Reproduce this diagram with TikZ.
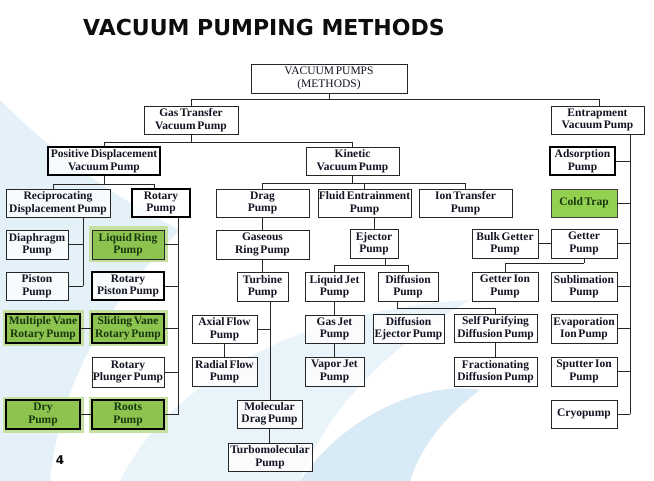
\documentclass[tikz,border=0pt]{standalone}
\usepackage{fontspec}
\newfontfamily\boxfont[WordSpace=0.6]{Liberation Serif}
\newfontfamily\titlefont{DejaVu Sans}
\definecolor{txt}{RGB}{20,20,35}
\definecolor{gfill}{RGB}{141,196,80}
\definecolor{cfill}{RGB}{146,208,80}
\definecolor{ghalo}{RGB}{196,224,160}
\definecolor{gtxt}{RGB}{25,55,15}
\definecolor{bgA}{RGB}{228,241,248}
\definecolor{bgB}{RGB}{232,243,250}
\definecolor{bgC}{RGB}{216,234,246}
\newcommand\mybox[7][]{\node[box,#1,minimum width={(#5)-(#3)},minimum height={(#6)-(#4)}] (#2) at ({((#3)+(#5))/2},{((#4)+(#6))/2}) {#7};}
\begin{document}
\begin{tikzpicture}[x=1pt,y=-1pt,
  box/.style={draw=black!85, line width=0.9pt, fill=white, fill opacity=0.75, text opacity=1, draw opacity=1,
    inner sep=0pt, align=center, text=txt, font=\boxfont\bfseries\fontsize{11.5}{12.5}\selectfont},
  rootbox/.style={font=\boxfont\fontsize{11.5}{12.5}\selectfont},
  thickbox/.style={line width=2pt, draw=black},
  greenhalo/.style={fill=gfill, fill opacity=1, text=gtxt, preaction={draw=ghalo, line width=7pt}},
  greenthick/.style={greenhalo, thickbox},
  greenbox/.style={fill=cfill, fill opacity=1, text=gtxt, draw=black!75},
  conn/.style={draw=black!85, line width=0.9pt}]
\useasboundingbox (0,0) rectangle (654,481);
\fill[white] (0,0) rectangle (654,481);
% background swooshes
\fill[bgA] (0,100) .. controls (60,160) and (120,200) .. (180,230) .. controls (110,300) and (60,380) .. (50,481) -- (0,481) -- cycle;
\fill[bgB] (120,481) .. controls (170,380) and (300,310) .. (470,300) .. controls (400,340) and (330,400) .. (300,481) -- cycle;
\fill[bgC] (300,481) .. controls (340,420) and (420,380) .. (480,390) .. controls (440,420) and (420,450) .. (410,481) -- cycle;

\node[font=\titlefont\bfseries\fontsize{22}{26}\selectfont, text=black!95, anchor=base west, inner sep=0pt] (title) at (83,36) {VACUUM PUMPING METHODS};
\node[font=\titlefont\bfseries\fontsize{12}{14}\selectfont, inner sep=0pt] (pagenum) at (60,460) {4};

\mybox[rootbox]{root}{251}{64}{407}{93}{VACUUM PUMPS\\(METHODS)}
\mybox{gas}{144}{106}{238}{134}{Gas Transfer\\Vacuum Pump}
\mybox{entr}{551}{106}{644}{134}{Entrapment\\Vacuum Pump}
\mybox[thickbox]{pd}{48}{147}{160}{175}{Positive Displacement\\Vacuum Pump}
\mybox{kin}{306}{147}{399}{175}{Kinetic\\Vacuum Pump}
\mybox[thickbox]{ads}{550}{147}{615}{175}{Adsorption\\Pump}
\mybox{recip}{6}{189}{110}{217}{Reciprocating\\Displacement Pump}
\mybox[thickbox]{rot}{132}{189}{190}{217}{Rotary\\Pump}
\mybox{drag}{216}{189}{309}{217}{Drag\\Pump}
\mybox{fluid}{318}{189}{411}{217}{Fluid Entrainment\\Pump}
\mybox{ion}{419}{189}{512}{217}{Ion Transfer\\Pump}
\mybox[greenbox]{cold}{551}{189}{617}{217}{Cold Trap}
\mybox{dia}{6}{230}{68}{259}{Diaphragm\\Pump}
\mybox[greenhalo]{liq}{92}{230}{164}{259}{Liquid Ring\\Pump}
\mybox{gasr}{216}{230}{309}{259}{Gaseous\\Ring Pump}
\mybox{ejec}{350}{229}{398}{258}{Ejector\\Pump}
\mybox{bulk}{472}{229}{538}{258}{Bulk Getter\\Pump}
\mybox{getter}{551}{229}{617}{258}{Getter\\Pump}
\mybox{piston}{6}{272}{68}{300}{Piston\\Pump}
\mybox[thickbox]{rpist}{92}{272}{164}{300}{Rotary\\Piston Pump}
\mybox{turb}{237}{272}{288}{301}{Turbine\\Pump}
\mybox{ljet}{305}{272}{364}{301}{Liquid Jet\\Pump}
\mybox{diff}{378}{272}{438}{301}{Diffusion\\Pump}
\mybox{gion}{472}{272}{538}{301}{Getter Ion\\Pump}
\mybox{subl}{551}{272}{617}{301}{Sublimation\\Pump}
\mybox[greenthick]{mvane}{6}{314}{80}{343}{Multiple Vane\\Rotary Pump}
\mybox[greenthick]{svane}{92}{314}{164}{343}{Sliding Vane\\Rotary Pump}
\mybox{axial}{192}{315}{257}{343}{Axial Flow\\Pump}
\mybox{gjet}{305}{315}{364}{343}{Gas Jet\\Pump}
\mybox{dej}{373}{314}{444}{343}{Diffusion\\Ejector Pump}
\mybox{selfp}{454}{314}{537}{342}{Self Purifying\\Diffusion Pump}
\mybox{evap}{551}{314}{617}{343}{Evaporation\\Ion Pump}
\mybox{plung}{92}{357}{164}{387}{Rotary\\Plunger Pump}
\mybox{radial}{192}{357}{257}{386}{Radial Flow\\Pump}
\mybox{vjet}{305}{357}{364}{386}{Vapor Jet\\Pump}
\mybox{frac}{454}{357}{537}{386}{Fractionating\\Diffusion Pump}
\mybox{sput}{551}{357}{617}{386}{Sputter Ion\\Pump}
\mybox[greenthick]{dry}{6}{400}{80}{429}{Dry\\Pump}
\mybox[greenthick]{roots}{92}{400}{164}{429}{Roots\\Pump}
\mybox{mdrag}{237}{400}{302}{428}{Molecular\\Drag Pump}
\mybox{cryo}{551}{400}{617}{428}{Cryopump}
\mybox{tmol}{228}{443}{312}{471}{Turbomolecular\\Pump}

% connectors
\draw[conn] (root.south) -- ++(0,6) coordinate (c1);
\draw[conn] (c1) -| (gas.north);
\draw[conn] (c1) -| ([xshift=1.5pt]entr.north);
\draw[conn] (gas.south) -- ++(0,8) coordinate (c2);
\draw[conn] (c2) -| (pd.north);
\draw[conn] (c2) -| (kin.north);
\draw[conn] (pd.south) -- ++(0,8) coordinate (c3);
\draw[conn] (c3) -| ([xshift=-5pt]recip.north);
\draw[conn] (c3) -| ([xshift=-7pt]rot.north);
\draw[conn] (kin.south) -- ++(0,8) coordinate (c4);
\draw[conn] (c4) -| (drag.north);
\draw[conn] (c4) -| (fluid.north);
\draw[conn] (c4) -| (ion.north);
% reciprocating
\coordinate (rv) at ([xshift=25pt]recip.south);
\draw[conn] (rv) -- (rv |- piston.east);
\draw[conn] (dia.east) -- (dia.east -| rv);
\draw[conn] (piston.east) -- (piston.east -| rv);
% rotary
\coordinate (rov) at ([xshift=17pt]rot.south);
\draw[conn] (rov) -- (rov |- roots.east);
\draw[conn] (liq.east) -- (liq.east -| rov);
\draw[conn] (rpist.east) -- (rpist.east -| rov);
\draw[conn] (svane.east) -- (svane.east -| rov);
\draw[conn] (plung.east) -- (plung.east -| rov);
\draw[conn] (roots.east) -- (roots.east -| rov);
\draw[conn] (mvane.east) -- (svane.west);
\draw[conn] (dry.east) -- (roots.west);
% drag
\draw[conn] (drag.south) -- (gasr.north);
\draw[conn] (gasr.south) -- (turb.north);
\coordinate (tv) at ([xshift=7.5pt]turb.south);
\draw[conn] (tv) -- (tv |- mdrag.north);
\draw[conn] (axial.east) -- (axial.east -| tv);
\draw[conn] (axial.south) -- (radial.north);
\draw[conn] (mdrag.south) -- (mdrag.south |- tmol.north);
% fluid entrainment
\draw[conn] (ejec.north |- fluid.south) -- (ejec.north);
\draw[conn] ([xshift=11pt]ejec.south) -- ++(0,7) coordinate (c5);
\draw[conn] (c5) -| (ljet.north);
\draw[conn] (c5) -| (diff.north);
\draw[conn] (ljet.south) -- (gjet.north);
\draw[conn] (gjet.south) -- (vjet.north);
\draw[conn] ([xshift=-11pt]diff.south) -- ++(0,7) coordinate (c6);
\draw[conn] (c6) -| (selfp.north);
\draw[conn] (selfp.south) -- (frac.north);
% getter
\draw[conn] (bulk.east) -- (getter.west);
\draw[conn] (getter.south) -- ++(0,5) coordinate (c7);
\draw[conn] (c7) -| (gion.north);
% entrapment
\coordinate (ev) at ([xshift=32.5pt]entr.south);
\draw[conn] (ev) -- (ev |- cryo.east);
\draw[conn] (ads.east) -- (ads.east -| ev);
\draw[conn] (cold.east) -- (cold.east -| ev);
\draw[conn] (getter.east) -- (getter.east -| ev);
\draw[conn] (subl.east) -- (subl.east -| ev);
\draw[conn] (evap.east) -- (evap.east -| ev);
\draw[conn] (sput.east) -- (sput.east -| ev);
\draw[conn] (cryo.east) -- (cryo.east -| ev);
\end{tikzpicture}
\end{document}
